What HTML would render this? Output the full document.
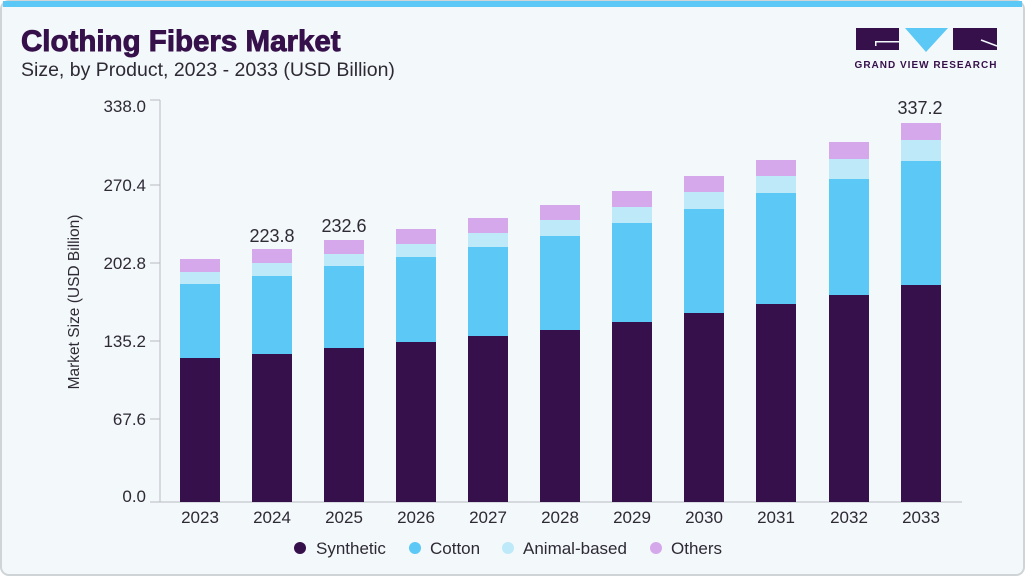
<!DOCTYPE html>
<html><head><meta charset="utf-8"><style>
html,body{margin:0;padding:0;background:#fff}
svg{display:block;font-family:"Liberation Sans",sans-serif}
</style></head><body>
<svg width="1025" height="576" viewBox="0 0 1025 576" xmlns="http://www.w3.org/2000/svg">
<rect x="1" y="1" width="1023" height="574" rx="8" fill="#f3f8fb" stroke="#cfd4d7" stroke-width="2"/>
<rect x="3" y="1" width="1019" height="6" fill="#5bc8f5"/>
<text x="21" y="51" font-size="29.5" font-weight="900" fill="#36104a" stroke="#36104a" stroke-width="0.9">Clothing Fibers Market</text>
<text x="21" y="76" font-size="19.5" fill="#2e2a35">Size, by Product, 2023 - 2033 (USD Billion)</text>
<rect x="856" y="28" width="43" height="22" fill="#36104a"/>
<rect x="875" y="41" width="24" height="1.5" fill="#f3f8fb"/>
<rect x="875" y="41" width="1.5" height="5" fill="#f3f8fb"/>
<polygon points="905,28 948,28 926,52" fill="#5bc8f5"/>
<rect x="953" y="28" width="44" height="22" fill="#36104a"/>
<line x1="981" y1="40" x2="997" y2="46" stroke="#f3f8fb" stroke-width="1.5"/>
<text x="926" y="68" font-size="10" font-weight="bold" fill="#36104a" text-anchor="middle" letter-spacing="1">GRAND VIEW RESEARCH</text>
<line x1="160" y1="100" x2="160" y2="502" stroke="#b8bcc0" stroke-width="1"/>
<line x1="160" y1="502" x2="962" y2="502" stroke="#b8bcc0" stroke-width="1"/>
<g stroke="#b8bcc0"><line x1="150" x2="160" y1="100" y2="100"/><line x1="150" x2="160" y1="185" y2="185"/><line x1="150" x2="160" y1="263" y2="263"/><line x1="150" x2="160" y1="341" y2="341"/><line x1="150" x2="160" y1="419" y2="419"/><line x1="150" x2="160" y1="502" y2="502"/></g>
<g font-size="17" fill="#2e2a35" text-anchor="end">
<text x="146" y="112">338.0</text><text x="146" y="191">270.4</text><text x="146" y="269">202.8</text><text x="146" y="347">135.2</text><text x="146" y="425">67.6</text><text x="146" y="502">0.0</text>
</g>
<text transform="translate(79,302) rotate(-90)" font-size="15.5" fill="#2e2a35" text-anchor="middle">Market Size (USD Billion)</text>
<g font-size="18" fill="#2e2a35" text-anchor="middle">
<text x="272" y="242">223.8</text><text x="344" y="232">232.6</text><text x="920" y="114">337.2</text>
</g>
<g font-size="17" fill="#2e2a35">
<circle cx="300" cy="548" r="6" fill="#36104a"/><text x="316" y="554">Synthetic</text>
<circle cx="415" cy="548" r="6" fill="#5bc8f5"/><text x="430" y="554">Cotton</text>
<circle cx="508" cy="548" r="6" fill="#bde9f8"/><text x="523" y="554">Animal-based</text>
<circle cx="656" cy="548" r="6" fill="#d4a8ea"/><text x="671" y="554">Others</text>
</g>
<g>
<rect x="180" y="259" width="40" height="13" fill="#d4a8ea"/><rect x="180" y="272" width="40" height="12" fill="#bde9f8"/><rect x="180" y="284" width="40" height="74" fill="#5bc8f5"/><rect x="180" y="358" width="40" height="144" fill="#36104a"/>
<rect x="252" y="249" width="40" height="14" fill="#d4a8ea"/><rect x="252" y="263" width="40" height="13" fill="#bde9f8"/><rect x="252" y="276" width="40" height="78" fill="#5bc8f5"/><rect x="252" y="354" width="40" height="148" fill="#36104a"/>
<rect x="324" y="240" width="40" height="14" fill="#d4a8ea"/><rect x="324" y="254" width="40" height="12" fill="#bde9f8"/><rect x="324" y="266" width="40" height="82" fill="#5bc8f5"/><rect x="324" y="348" width="40" height="154" fill="#36104a"/>
<rect x="396" y="229" width="40" height="15" fill="#d4a8ea"/><rect x="396" y="244" width="40" height="13" fill="#bde9f8"/><rect x="396" y="257" width="40" height="85" fill="#5bc8f5"/><rect x="396" y="342" width="40" height="160" fill="#36104a"/>
<rect x="468" y="218" width="40" height="15" fill="#d4a8ea"/><rect x="468" y="233" width="40" height="14" fill="#bde9f8"/><rect x="468" y="247" width="40" height="89" fill="#5bc8f5"/><rect x="468" y="336" width="40" height="166" fill="#36104a"/>
<rect x="540" y="205" width="40" height="15" fill="#d4a8ea"/><rect x="540" y="220" width="40" height="16" fill="#bde9f8"/><rect x="540" y="236" width="40" height="94" fill="#5bc8f5"/><rect x="540" y="330" width="40" height="172" fill="#36104a"/>
<rect x="612" y="191" width="40" height="16" fill="#d4a8ea"/><rect x="612" y="207" width="40" height="16" fill="#bde9f8"/><rect x="612" y="223" width="40" height="99" fill="#5bc8f5"/><rect x="612" y="322" width="40" height="180" fill="#36104a"/>
<rect x="684" y="176" width="40" height="16" fill="#d4a8ea"/><rect x="684" y="192" width="40" height="17" fill="#bde9f8"/><rect x="684" y="209" width="40" height="104" fill="#5bc8f5"/><rect x="684" y="313" width="40" height="189" fill="#36104a"/>
<rect x="756" y="160" width="40" height="16" fill="#d4a8ea"/><rect x="756" y="176" width="40" height="17" fill="#bde9f8"/><rect x="756" y="193" width="40" height="111" fill="#5bc8f5"/><rect x="756" y="304" width="40" height="198" fill="#36104a"/>
<rect x="829" y="142" width="40" height="17" fill="#d4a8ea"/><rect x="829" y="159" width="40" height="20" fill="#bde9f8"/><rect x="829" y="179" width="40" height="116" fill="#5bc8f5"/><rect x="829" y="295" width="40" height="207" fill="#36104a"/>
<rect x="901" y="123" width="40" height="17" fill="#d4a8ea"/><rect x="901" y="140" width="40" height="21" fill="#bde9f8"/><rect x="901" y="161" width="40" height="124" fill="#5bc8f5"/><rect x="901" y="285" width="40" height="217" fill="#36104a"/>
</g>
<g font-size="17" fill="#2e2a35" text-anchor="middle">
<text x="200" y="523">2023</text><text x="272" y="523">2024</text><text x="344" y="523">2025</text><text x="416" y="523">2026</text><text x="488" y="523">2027</text><text x="560" y="523">2028</text><text x="632" y="523">2029</text><text x="704" y="523">2030</text><text x="776" y="523">2031</text><text x="849" y="523">2032</text><text x="921" y="523">2033</text>
</g>
</svg>
</body></html>
